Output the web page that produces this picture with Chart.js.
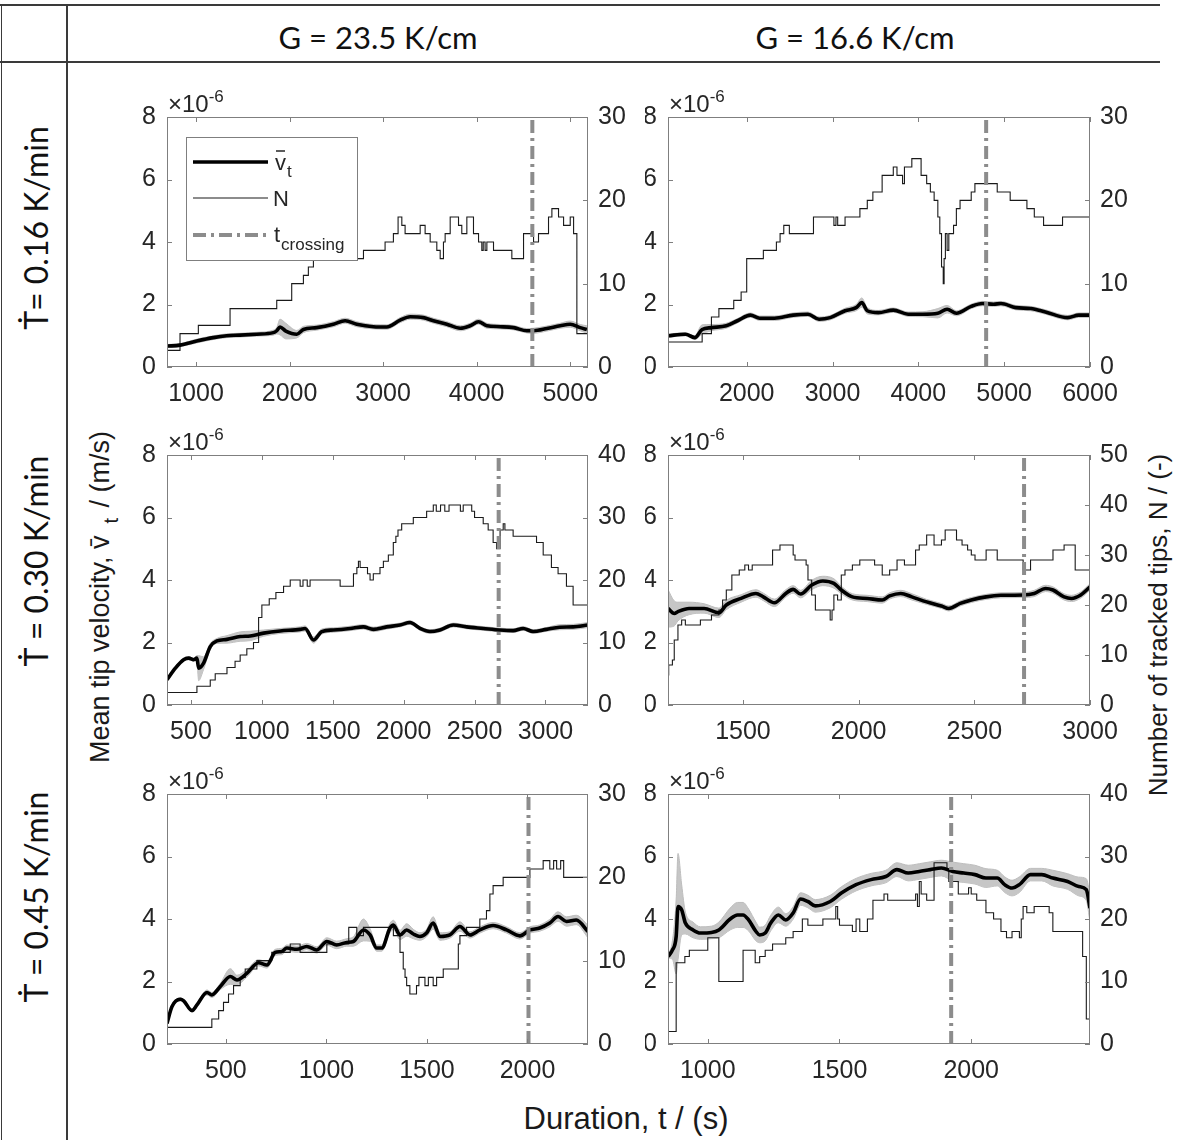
<!DOCTYPE html>
<html>
<head>
<meta charset="utf-8">
<script src="https://cdn.jsdelivr.net/npm/chart.js@4.4.1/dist/chart.umd.min.js"></script>
<style>
  body { margin: 0; background: #fff; width: 1181px; height: 1140px; position: relative; overflow: hidden; color: #262626; font-family: 'Liberation Sans', Arial, sans-serif; }
  .hl { position: absolute; height: 2px; background: #3a3a3a; }
  .vl { position: absolute; width: 2px; background: #3a3a3a; }
  .lbl { position: absolute; white-space: nowrap; transform: translate(-50%, -50%); }
  .rot { transform: translate(-50%, -50%) rotate(-90deg); }
  .cal { font-family: Lato, 'Liberation Sans Narrow', sans-serif; font-size: 31px; color: #111; }
  .ttl { color: #1a1a1a; }
  canvas { position: absolute; }
</style>
</head>
<body>
<div class="hl" style="left:0; top:4px; width:1160px;"></div>
<div class="hl" style="left:0; top:61px; width:1160px;"></div>
<div class="vl" style="left:1px; top:4px; height:1136px; width:1px;"></div>
<div class="vl" style="left:66px; top:4px; height:1136px;"></div>

<div class="lbl cal" style="left:378px; top:37px;">G = 23.5 K/cm</div>
<div class="lbl cal" style="left:855px; top:37px;">G = 16.6 K/cm</div>
<div class="lbl cal rot" style="left:35px; top:228px; font-size:32px;">Ṫ= 0.16 K/min</div>
<div class="lbl cal rot" style="left:35px; top:561px; font-size:32px;">Ṫ = 0.30 K/min</div>
<div class="lbl cal rot" style="left:35px; top:897px; font-size:32px;">Ṫ = 0.45 K/min</div>

<div class="lbl ttl rot" style="left:100px; top:597px; font-size:27px;">Mean tip velocity, v&#772;<span style="position:relative; top:9px; font-size:20px; margin-left:12px; margin-right:3px;">t</span> / (m/s)</div>
<div class="lbl ttl rot" style="left:1158px; top:625px; font-size:26px;">Number of tracked tips, N / (-)</div>
<div class="lbl ttl" style="left:626px; top:1119px; font-size:31px;">Duration, t / (s)</div>

<canvas id="c1" width="545" height="327" style="left:100px; top:85px;"></canvas>
<canvas id="c2" width="500" height="327" style="left:645px; top:85px;"></canvas>
<canvas id="c3" width="545" height="327" style="left:100px; top:423px;"></canvas>
<canvas id="c4" width="500" height="327" style="left:645px; top:423px;"></canvas>
<canvas id="c5" width="545" height="327" style="left:100px; top:762px;"></canvas>
<canvas id="c6" width="500" height="327" style="left:645px; top:762px;"></canvas>

<script>
// ---- data (velocity in units of 1e-6 m/s, time in s) ----
// G = 23.5 K/cm, Tdot = 0.16 K/min
const p1T = [690, 829, 1007, 1185, 1328, 1470, 1649, 1827, 1863, 1898, 1960, 2077, 2148, 2290, 2469, 2594, 2718, 2897, 3039, 3182, 3289, 3431, 3538, 3681, 3824, 3930, 4020, 4109, 4251, 4394, 4537, 4608, 4750, 4893, 5000, 5107, 5178];
const p1V = [0.67, 0.70, 0.83, 0.94, 1.0, 1.02, 1.05, 1.1, 1.16, 1.28, 1.15, 1.05, 1.2, 1.26, 1.37, 1.48, 1.37, 1.29, 1.28, 1.5, 1.61, 1.58, 1.48, 1.37, 1.24, 1.32, 1.45, 1.32, 1.29, 1.26, 1.16, 1.16, 1.23, 1.32, 1.37, 1.26, 1.2];
const p1E = [0.05, 0.05, 0.06, 0.06, 0.06, 0.06, 0.06, 0.08, 0.1, 0.25, 0.25, 0.12, 0.1, 0.08, 0.08, 0.08, 0.08, 0.07, 0.07, 0.08, 0.08, 0.08, 0.08, 0.08, 0.08, 0.08, 0.08, 0.08, 0.07, 0.07, 0.07, 0.08, 0.08, 0.08, 0.1, 0.1, 0.12];
const p1NT = [690, 829, 1025, 1364, 1863, 2023, 2148, 2201, 2255, 2300, 2344, 2790, 3021, 3110, 3160, 3200, 3235, 3396, 3449, 3503, 3574, 3610, 3645, 3663, 3717, 3806, 3841, 3895, 3966, 4020, 4055, 4070, 4090, 4109, 4180, 4376, 4501, 4608, 4661, 4768, 4804, 4875, 4929, 5000, 5036, 5071, 5160, 5190];
const p1N = [1, 2, 4, 5, 7, 8, 10, 11, 12, 13, 14, 13, 14, 15, 16, 18, 17, 16, 17, 16, 15, 14, 13, 15, 16, 18, 17, 16, 18, 16, 15, 14, 15, 14, 15, 14, 13, 16, 15, 16, 18, 19, 18, 17, 18, 16, 4, 4];
const p1Cross = 4595;

// G = 16.6 K/cm, Tdot = 0.16 K/min
const p2T = [1083, 1286, 1395, 1481, 1589, 1762, 1892, 2043, 2151, 2324, 2541, 2714, 2843, 2973, 3146, 3276, 3341, 3405, 3535, 3708, 3881, 4054, 4227, 4335, 4443, 4616, 4746, 4876, 4962, 5135, 5308, 5481, 5741, 5870, 6000];
const p2V = [1.0, 1.05, 0.94, 1.2, 1.26, 1.32, 1.48, 1.66, 1.56, 1.56, 1.66, 1.69, 1.53, 1.58, 1.8, 1.9, 2.06, 1.8, 1.74, 1.82, 1.69, 1.69, 1.72, 1.85, 1.72, 1.94, 2.03, 2.01, 2.03, 1.9, 1.87, 1.76, 1.58, 1.66, 1.66];
const p2E = [0.05, 0.05, 0.06, 0.15, 0.1, 0.08, 0.07, 0.07, 0.07, 0.07, 0.07, 0.07, 0.07, 0.07, 0.08, 0.1, 0.15, 0.1, 0.07, 0.07, 0.07, 0.08, 0.15, 0.12, 0.08, 0.07, 0.07, 0.07, 0.07, 0.07, 0.07, 0.07, 0.07, 0.07, 0.07];
const p2NT = [1083, 1481, 1589, 1676, 1849, 1935, 2000, 2194, 2346, 2389, 2432, 2497, 2778, 3016, 3040, 3060, 3146, 3319, 3405, 3470, 3578, 3708, 3751, 3816, 3838, 3924, 4032, 4097, 4140, 4184, 4227, 4250, 4270, 4290, 4300, 4315, 4335, 4355, 4410, 4443, 4486, 4616, 4659, 4919, 5070, 5265, 5351, 5459, 5680, 5760, 6000];
const p2N = [1, 3, 4, 6, 7, 8, 9, 13, 14, 15, 16, 17, 16, 18, 17, 18, 17, 18, 19, 20, 21, 23, 24, 23, 22, 24, 25, 23, 22, 21, 20, 18, 16, 12, 10, 13, 16, 14, 16, 17, 19, 20, 21, 22, 21, 20, 19, 18, 17, 18, 18];
const p2Cross = 4790;

// G = 23.5 K/cm, Tdot = 0.30 K/min
const p3T = [331, 390, 448, 484, 519, 542, 554, 589, 636, 683, 754, 847, 918, 1012, 1129, 1270, 1305, 1364, 1423, 1505, 1622, 1716, 1786, 1880, 1974, 2045, 2115, 2185, 2256, 2350, 2444, 2561, 2678, 2772, 2843, 2913, 3007, 3101, 3195, 3300];
const p3V = [0.81, 1.18, 1.45, 1.5, 1.45, 1.5, 1.18, 1.34, 1.87, 2.05, 2.1, 2.19, 2.21, 2.3, 2.37, 2.42, 2.45, 2.08, 2.35, 2.4, 2.45, 2.5, 2.42, 2.5, 2.56, 2.64, 2.45, 2.35, 2.4, 2.56, 2.5, 2.45, 2.4, 2.38, 2.45, 2.35, 2.42, 2.49, 2.5, 2.56];
const p3E = [0.05, 0.05, 0.05, 0.05, 0.05, 0.08, 0.4, 0.2, 0.1, 0.08, 0.12, 0.15, 0.15, 0.1, 0.08, 0.08, 0.08, 0.1, 0.08, 0.07, 0.07, 0.07, 0.07, 0.07, 0.06, 0.06, 0.06, 0.06, 0.06, 0.06, 0.06, 0.06, 0.06, 0.06, 0.06, 0.06, 0.06, 0.08, 0.08, 0.08];
const p3NT = [331, 542, 636, 671, 754, 811, 847, 894, 941, 977, 1000, 1052, 1099, 1153, 1200, 1270, 1290, 1320, 1340, 1552, 1646, 1670, 1681, 1693, 1745, 1763, 1786, 1833, 1857, 1892, 1927, 1945, 1960, 1986, 2068, 2162, 2209, 2230, 2260, 2290, 2320, 2400, 2420, 2480, 2500, 2561, 2596, 2631, 2655, 2680, 2702, 2714, 2772, 2937, 2984, 3042, 3089, 3148, 3195, 3242, 3300];
const p3N = [1, 2, 3, 4, 5, 6, 7, 8, 9, 10, 14, 16, 17, 18, 19, 20, 19, 20, 19, 20, 19, 21, 22, 23, 22, 21, 20, 21, 22, 23, 24, 26, 27, 28, 29, 30, 31, 32, 31, 32, 31, 32, 31, 32, 31, 30, 29, 28, 26, 25, 28, 29, 28, 27, 26, 24, 22, 21, 19, 16, 16];
const p3Cross = 2670;

// G = 16.6 K/cm, Tdot = 0.30 K/min
const p4T = [1176, 1203, 1219, 1267, 1332, 1396, 1428, 1492, 1556, 1588, 1636, 1685, 1717, 1749, 1797, 1845, 1893, 1925, 1973, 2037, 2102, 2134, 2182, 2230, 2294, 2358, 2390, 2439, 2487, 2551, 2615, 2711, 2759, 2808, 2840, 2888, 2920, 2960, 3000];
const p4V = [3.09, 2.93, 2.99, 3.09, 3.09, 2.95, 3.2, 3.41, 3.57, 3.46, 3.27, 3.57, 3.7, 3.55, 3.84, 3.97, 3.89, 3.68, 3.46, 3.41, 3.36, 3.49, 3.57, 3.46, 3.3, 3.17, 3.09, 3.25, 3.36, 3.46, 3.51, 3.52, 3.57, 3.73, 3.68, 3.46, 3.41, 3.52, 3.78];
const p4E = [0.6, 0.4, 0.3, 0.2, 0.15, 0.15, 0.15, 0.12, 0.12, 0.12, 0.12, 0.12, 0.12, 0.12, 0.15, 0.15, 0.15, 0.12, 0.1, 0.1, 0.1, 0.1, 0.1, 0.1, 0.08, 0.08, 0.08, 0.08, 0.08, 0.08, 0.08, 0.08, 0.1, 0.1, 0.1, 0.1, 0.1, 0.1, 0.1];
const p4NT = [1176, 1179, 1195, 1203, 1219, 1235, 1251, 1316, 1364, 1396, 1412, 1428, 1452, 1484, 1508, 1524, 1540, 1628, 1660, 1717, 1725, 1773, 1781, 1797, 1813, 1877, 1885, 1893, 1909, 1925, 1941, 1973, 2005, 2069, 2102, 2134, 2166, 2198, 2246, 2262, 2294, 2326, 2358, 2374, 2423, 2447, 2471, 2487, 2503, 2551, 2599, 2711, 2743, 2840, 2888, 2936, 2968, 3000];
const p4N = [0, 6, 8, 9, 13, 16, 17, 16, 17, 18, 19, 21, 23, 26, 27, 28, 27, 28, 31, 32, 30, 29, 28, 25, 22, 19, 17, 19, 22, 21, 26, 27, 28, 29, 28, 26, 27, 29, 28, 31, 32, 34, 32, 33, 35, 33, 32, 31, 30, 29, 31, 29, 27, 29, 31, 32, 27, 27];
const p4Cross = 2715;

// G = 23.5 K/cm, Tdot = 0.45 K/min
const p5T = [207, 232, 273, 290, 331, 356, 406, 430, 472, 522, 555, 604, 662, 704, 745, 778, 803, 853, 902, 952, 1002, 1051, 1101, 1134, 1184, 1217, 1250, 1275, 1316, 1333, 1366, 1399, 1432, 1465, 1498, 1531, 1565, 1614, 1664, 1714, 1763, 1829, 1896, 1962, 2012, 2061, 2111, 2152, 2194, 2243, 2301];
const p5V = [0.66, 1.2, 1.43, 1.38, 1.07, 1.25, 1.65, 1.57, 1.84, 2.16, 2.05, 2.26, 2.6, 2.53, 2.93, 2.96, 3.07, 3.03, 3.12, 3.01, 3.28, 3.17, 3.25, 3.28, 3.65, 3.49, 3.07, 3.07, 3.71, 3.81, 3.49, 3.65, 3.52, 3.44, 3.55, 3.87, 3.44, 3.49, 3.76, 3.49, 3.65, 3.79, 3.65, 3.46, 3.65, 3.71, 3.87, 4.08, 3.92, 3.97, 3.6];
const p5E = [0.05, 0.05, 0.05, 0.05, 0.05, 0.06, 0.08, 0.08, 0.1, 0.25, 0.15, 0.12, 0.1, 0.1, 0.1, 0.1, 0.1, 0.1, 0.1, 0.1, 0.12, 0.12, 0.12, 0.15, 0.35, 0.2, 0.1, 0.1, 0.15, 0.15, 0.15, 0.2, 0.15, 0.12, 0.12, 0.2, 0.12, 0.1, 0.15, 0.1, 0.1, 0.1, 0.1, 0.1, 0.1, 0.1, 0.12, 0.15, 0.15, 0.15, 0.2];
const p5NT = [207, 430, 464, 488, 513, 538, 571, 596, 654, 728, 820, 869, 1002, 1111, 1151, 1184, 1333, 1366, 1382, 1391, 1399, 1415, 1448, 1460, 1490, 1507, 1531, 1548, 1581, 1656, 1664, 1697, 1763, 1796, 1813, 1829, 1879, 2012, 2078, 2111, 2130, 2145, 2165, 2180, 2235, 2301];
const p5N = [1, 2, 3, 4, 5, 6, 7, 8, 9, 10, 11, 12, 11, 12, 14, 13, 14, 13, 11, 9, 8, 7, 6, 7, 8, 7, 8, 7, 8, 9, 12, 13, 14, 15, 16, 18, 19, 20, 21, 22, 21, 22, 21, 22, 20, 20];
const p5Cross = 2005;

// G = 16.6 K/cm, Tdot = 0.45 K/min
const p6T = [849, 866, 880, 887, 901, 915, 944, 972, 1014, 1042, 1085, 1113, 1134, 1155, 1183, 1197, 1218, 1239, 1268, 1296, 1324, 1352, 1380, 1408, 1465, 1507, 1563, 1620, 1676, 1718, 1761, 1803, 1845, 1887, 1930, 1972, 2014, 2056, 2099, 2127, 2155, 2183, 2225, 2268, 2310, 2366, 2408, 2437, 2451];
const p6V = [2.8, 3.01, 3.44, 4.4, 4.29, 3.87, 3.65, 3.55, 3.57, 3.65, 4.0, 4.13, 4.13, 3.97, 3.6, 3.49, 3.55, 3.87, 4.13, 3.97, 4.19, 4.64, 4.56, 4.42, 4.56, 4.83, 5.1, 5.26, 5.36, 5.58, 5.47, 5.52, 5.58, 5.63, 5.52, 5.47, 5.42, 5.31, 5.31, 5.1, 4.99, 5.1, 5.42, 5.42, 5.31, 5.2, 5.04, 4.94, 4.35];
const p6E = [0.05, 0.3, 1.2, 1.7, 0.8, 0.35, 0.25, 0.2, 0.2, 0.25, 0.35, 0.4, 0.4, 0.35, 0.3, 0.25, 0.25, 0.25, 0.25, 0.2, 0.2, 0.2, 0.2, 0.2, 0.2, 0.2, 0.2, 0.2, 0.2, 0.22, 0.25, 0.25, 0.25, 0.25, 0.3, 0.3, 0.3, 0.3, 0.25, 0.25, 0.25, 0.25, 0.2, 0.2, 0.25, 0.25, 0.3, 0.35, 0.45];
const p6NT = [849, 880, 913, 930, 1000, 1042, 1134, 1180, 1197, 1218, 1246, 1296, 1324, 1359, 1380, 1437, 1486, 1493, 1500, 1549, 1563, 1577, 1606, 1627, 1669, 1683, 1789, 1796, 1803, 1810, 1831, 1859, 1908, 1915, 1951, 1990, 2000, 2021, 2056, 2085, 2113, 2134, 2155, 2183, 2190, 2197, 2211, 2239, 2296, 2310, 2423, 2437, 2444, 2451];
const p6N = [1, 2, 13, 14, 15, 17, 10, 15, 13, 14, 15, 16, 17, 18, 20, 19, 20, 22, 20, 19, 18, 20, 18, 20, 23, 24, 23, 24, 22, 26, 24, 23, 29, 28, 26, 24, 25, 24, 23, 21, 20, 18, 17, 18, 17, 20, 22, 21, 22, 21, 18, 14, 4, 4];
const p6Cross = 1924;

// axis ranges and ticks
const vTicks = [0, 2, 4, 6, 8];
const xRanges = [[690, 5190], [1083, 6000], [331, 3300], [1176, 3000], [207, 2301], [849, 2451]];
const xTicks = [
  [1000, 2000, 3000, 4000, 5000],
  [2000, 3000, 4000, 5000, 6000],
  [500, 1000, 1500, 2000, 2500, 3000],
  [1500, 2000, 2500, 3000],
  [500, 1000, 1500, 2000],
  [1000, 1500, 2000]
];
const nTicks = [
  [0, 10, 20, 30],
  [0, 10, 20, 30],
  [0, 10, 20, 30, 40],
  [0, 10, 20, 30, 40, 50],
  [0, 10, 20, 30],
  [0, 10, 20, 30, 40]
];

const FONT = "'Liberation Sans', Arial, sans-serif";
const TXT = '#262626';
const AXC = '#7f7f7f';
const CROSS = '#8c8c8c';

function pts(xs, ys) {
  return xs.map((x, i) => ({ x: x, y: ys[i] }));
}

// box, inward ticks, x10^-6 label, legend of first panel
const frame = {
  id: 'frame',
  afterDatasetsDraw(chart, args, opts) {
    const { ctx, chartArea: a, scales } = chart;
    ctx.save();
    ctx.strokeStyle = AXC;
    ctx.lineWidth = 1;
    ctx.strokeRect(Math.round(a.left) + 0.5, Math.round(a.top) + 0.5, Math.round(a.width) - 1, Math.round(a.height) - 1);
    ctx.beginPath();
    scales.x.ticks.forEach(t => {
      const p = Math.round(scales.x.getPixelForValue(t.value)) + 0.5;
      ctx.moveTo(p, a.bottom); ctx.lineTo(p, a.bottom - 5);
      ctx.moveTo(p, a.top); ctx.lineTo(p, a.top + 5);
    });
    scales.y.ticks.forEach(t => {
      const p = Math.round(scales.y.getPixelForValue(t.value)) + 0.5;
      ctx.moveTo(a.left, p); ctx.lineTo(a.left + 5, p);
    });
    scales.y2.ticks.forEach(t => {
      const p = Math.round(scales.y2.getPixelForValue(t.value)) + 0.5;
      ctx.moveTo(a.right, p); ctx.lineTo(a.right - 5, p);
    });
    ctx.stroke();

    ctx.fillStyle = TXT;
    ctx.textBaseline = 'alphabetic';
    ctx.textAlign = 'left';
    ctx.font = '24px ' + FONT;
    ctx.fillText('\u00d710', a.left + 1, a.top - 5);
    const w = ctx.measureText('\u00d710').width;
    ctx.font = '17px ' + FONT;
    ctx.fillText('-6', a.left + 1 + w, a.top - 15);

    if (opts.legend) {
      const lx = Math.round(a.left) + 19, ly = Math.round(a.top) + 20, lw = 171, lh = 123;
      ctx.fillStyle = '#fff';
      ctx.fillRect(lx, ly, lw, lh);
      ctx.strokeStyle = AXC;
      ctx.lineWidth = 1;
      ctx.strokeRect(lx + 0.5, ly + 0.5, lw, lh);
      const x0 = lx + 7, x1 = lx + 82;
      ctx.lineCap = 'butt';
      ctx.strokeStyle = '#000'; ctx.lineWidth = 3.6;
      ctx.beginPath(); ctx.moveTo(x0, ly + 25); ctx.lineTo(x1, ly + 25); ctx.stroke();
      ctx.strokeStyle = '#1a1a1a'; ctx.lineWidth = 1.1;
      ctx.beginPath(); ctx.moveTo(x0, ly + 61); ctx.lineTo(x1, ly + 61); ctx.stroke();
      ctx.strokeStyle = CROSS; ctx.lineWidth = 4; ctx.setLineDash([13, 5, 3, 5]);
      ctx.beginPath(); ctx.moveTo(x0, ly + 98); ctx.lineTo(x1, ly + 98); ctx.stroke();
      ctx.setLineDash([]);

      ctx.fillStyle = TXT;
      ctx.font = '22px ' + FONT;
      const vx = lx + 89;
      ctx.fillText('v', vx, ly + 33);
      const vw = ctx.measureText('v').width;
      ctx.strokeStyle = TXT; ctx.lineWidth = 1.5;
      ctx.beginPath(); ctx.moveTo(vx + 1, ly + 14); ctx.lineTo(vx + vw - 1, ly + 14); ctx.stroke();
      ctx.fillText('N', lx + 87, ly + 69);
      ctx.fillText('t', lx + 88, ly + 105);
      const tw = ctx.measureText('t').width;
      ctx.font = '17px ' + FONT;
      ctx.fillText('t', vx + vw + 1, ly + 40);
      ctx.fillText('crossing', lx + 88 + tw + 1, ly + 113);
    }
    ctx.restore();
  }
};

function makeChart(id, k, T, V, E, NT, N, cross, leftW, rightW, legend) {
  const datasets = [
    { data: pts(T, V.map((v, i) => v + E[i])), yAxisID: 'y', borderColor: '#bdbdbd', borderWidth: 1, backgroundColor: '#c6c6c6', fill: '+1', pointRadius: 0, cubicInterpolationMode: 'monotone', order: 5 },
    { data: pts(T, V.map((v, i) => v - E[i])), yAxisID: 'y', borderColor: '#bdbdbd', borderWidth: 1, fill: false, pointRadius: 0, cubicInterpolationMode: 'monotone', order: 5 },
    { data: pts(NT, N), yAxisID: 'y2', borderColor: '#1a1a1a', borderWidth: 1.1, stepped: 'after', fill: false, pointRadius: 0, order: 3 },
    { data: pts(T, V), yAxisID: 'y', borderColor: '#000', borderWidth: 3.6, fill: false, pointRadius: 0, cubicInterpolationMode: 'monotone', order: 2 },
    { data: [{ x: cross, y: 0 }, { x: cross, y: 8 }], yAxisID: 'y', borderColor: CROSS, borderWidth: 4, borderDash: [13, 5, 3, 5], fill: false, pointRadius: 0, order: 1 }
  ];
  const tickFont = { family: FONT, size: 25 };
  new Chart(document.getElementById(id), {
    type: 'line',
    data: { datasets: datasets },
    options: {
      responsive: false,
      animation: false,
      events: [],
      layout: { padding: { top: 32, left: 0, right: 0, bottom: 0 } },
      scales: {
        x: {
          type: 'linear', min: xRanges[k][0], max: xRanges[k][1],
          afterBuildTicks: s => { s.ticks = xTicks[k].map(v => ({ value: v })); },
          afterFit: s => { s.height = 45; },
          grid: { display: false, drawTicks: false },
          border: { display: false },
          ticks: { color: TXT, font: tickFont, padding: 12, maxRotation: 0, autoSkip: false, callback: v => String(v) }
        },
        y: {
          min: 0, max: 8,
          afterBuildTicks: s => { s.ticks = vTicks.map(v => ({ value: v })); },
          afterFit: s => { s.width = leftW; },
          grid: { display: false, drawTicks: false },
          border: { display: false },
          ticks: { color: TXT, font: tickFont, padding: 11, callback: v => String(v) }
        },
        y2: {
          position: 'right', min: 0, max: nTicks[k][nTicks[k].length - 1],
          afterBuildTicks: s => { s.ticks = nTicks[k].map(v => ({ value: v })); },
          afterFit: s => { s.width = rightW; },
          grid: { display: false, drawTicks: false },
          border: { display: false },
          ticks: { color: TXT, font: tickFont, padding: 10, callback: v => String(v) }
        }
      },
      plugins: {
        legend: { display: false },
        tooltip: { enabled: false },
        frame: { legend: legend }
      }
    },
    plugins: [frame]
  });
}

makeChart('c1', 0, p1T, p1V, p1E, p1NT, p1N, p1Cross, 67, 57, true);
makeChart('c2', 1, p2T, p2V, p2E, p2NT, p2N, p2Cross, 23, 55, false);
makeChart('c3', 2, p3T, p3V, p3E, p3NT, p3N, p3Cross, 67, 57, false);
makeChart('c4', 3, p4T, p4V, p4E, p4NT, p4N, p4Cross, 23, 55, false);
makeChart('c5', 4, p5T, p5V, p5E, p5NT, p5N, p5Cross, 67, 57, false);
makeChart('c6', 5, p6T, p6V, p6E, p6NT, p6N, p6Cross, 23, 55, false);
</script>
</body>
</html>
